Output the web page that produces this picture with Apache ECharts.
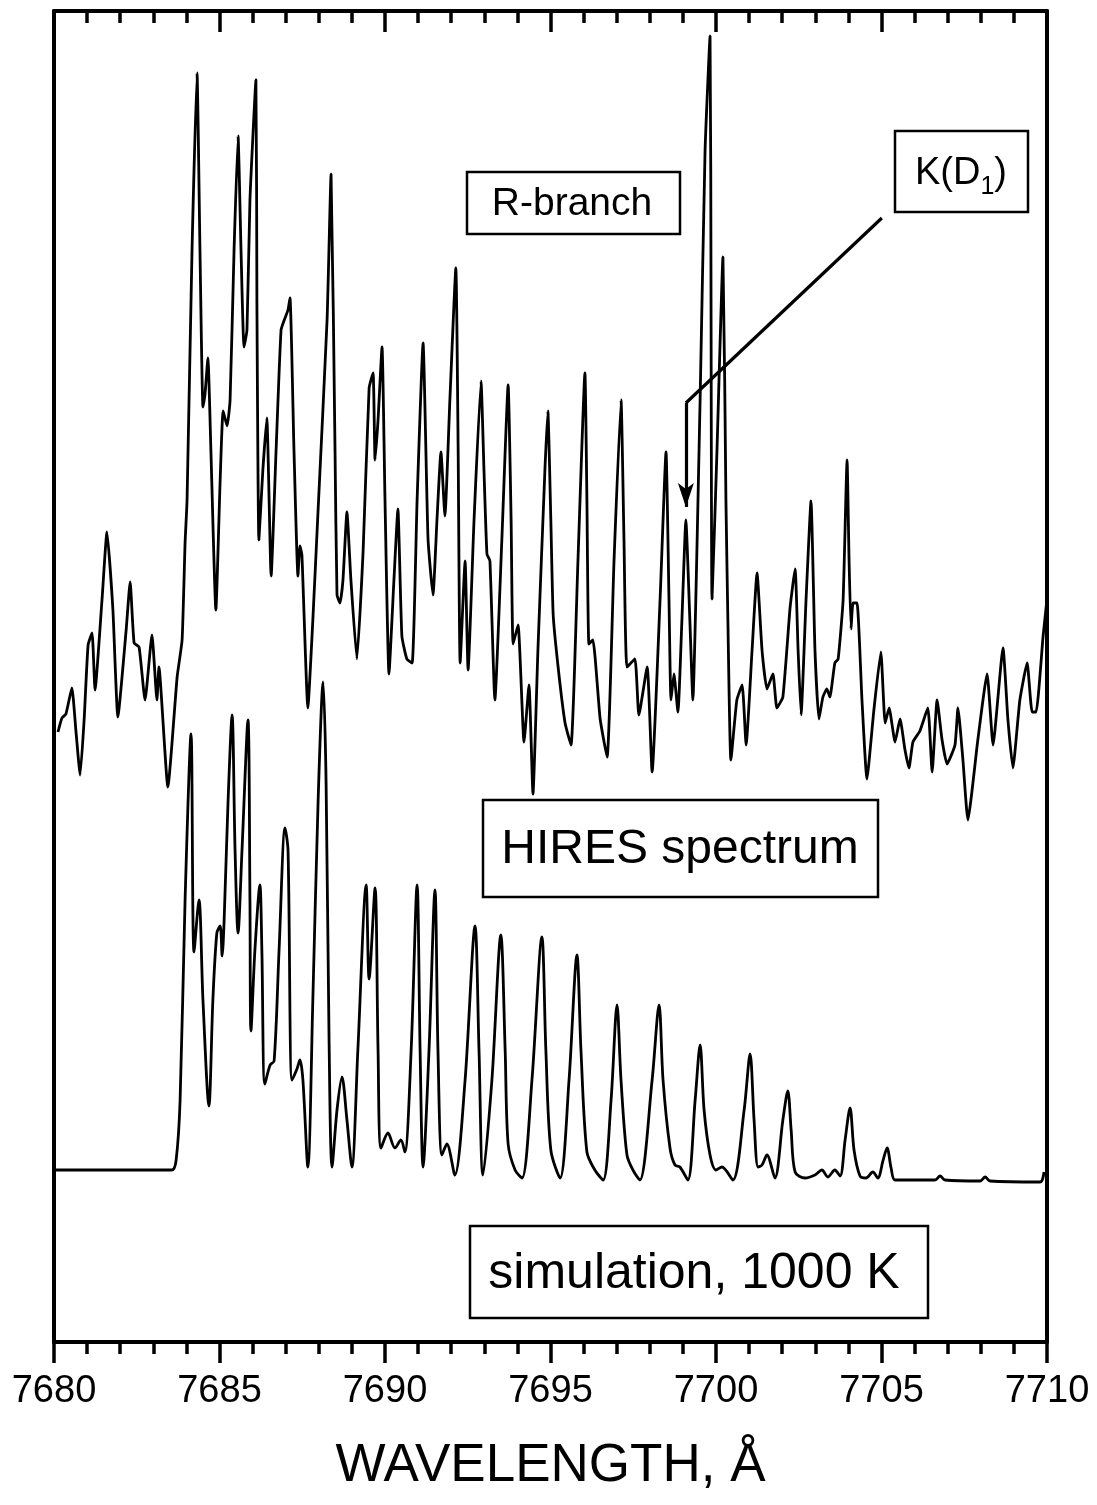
<!DOCTYPE html>
<html>
<head>
<meta charset="utf-8">
<script src="https://cdn.jsdelivr.net/npm/echarts@6/dist/echarts.min.js"></script>
<style>
  html, body { margin: 0; padding: 0; background: #fff; }
  #chart { width: 1097px; height: 1505px; }
</style>
</head>
<body>
<div id="chart"></div>
<script>
// Observed HIRES spectrum (relative flux, arbitrary units, offset upward)
const hiresWavelength = [
  7680.12, 7680.24, 7680.36, 7680.54, 7680.66, 7680.79, 7680.91, 7681.03, 7681.15, 7681.24,
  7681.45, 7681.60, 7681.78, 7681.93, 7682.18, 7682.30, 7682.42, 7682.57, 7682.75, 7682.96,
  7683.11, 7683.17, 7683.44, 7683.72, 7683.87, 7683.96, 7684.02, 7684.17, 7684.32, 7684.41,
  7684.50, 7684.56, 7684.65, 7684.74, 7684.89, 7685.02, 7685.11, 7685.23, 7685.32, 7685.44,
  7685.56, 7685.65, 7685.74, 7685.83, 7685.92, 7686.10, 7686.13, 7686.19, 7686.31, 7686.43,
  7686.56, 7686.71, 7686.86, 7686.98, 7687.07, 7687.13, 7687.25, 7687.37, 7687.43, 7687.49,
  7687.67, 7687.82, 7687.98, 7688.25, 7688.37, 7688.49, 7688.55, 7688.64, 7688.73, 7688.85,
  7688.97, 7689.15, 7689.34, 7689.52, 7689.64, 7689.70, 7689.79, 7689.91, 7690.00, 7690.12,
  7690.27, 7690.39, 7690.51, 7690.66, 7690.82, 7690.97, 7691.15, 7691.30, 7691.45, 7691.57,
  7691.69, 7691.81, 7691.96, 7692.14, 7692.21, 7692.27, 7692.42, 7692.51, 7692.69, 7692.90,
  7692.99, 7693.08, 7693.17, 7693.32, 7693.53, 7693.72, 7693.81, 7693.87, 7694.02, 7694.20,
  7694.35, 7694.47, 7694.62, 7694.83, 7694.92, 7695.01, 7695.08, 7695.23, 7695.44, 7695.62,
  7695.83, 7696.04, 7696.10, 7696.16, 7696.28, 7696.50, 7696.71, 7696.92, 7697.13, 7697.22,
  7697.31, 7697.55, 7697.67, 7697.92, 7698.07, 7698.31, 7698.49, 7698.58, 7698.64, 7698.73,
  7698.85, 7698.97, 7699.09, 7699.21, 7699.30, 7699.52, 7699.67, 7699.82, 7699.85, 7699.88,
  7700.03, 7700.21, 7700.30, 7700.36, 7700.45, 7700.63, 7700.79, 7700.91, 7701.09, 7701.24,
  7701.39, 7701.54, 7701.72, 7701.84, 7702.02, 7702.24, 7702.39, 7702.48, 7702.57, 7702.72,
  7702.87, 7702.99, 7703.11, 7703.23, 7703.35, 7703.44, 7703.59, 7703.69, 7703.84, 7703.96,
  7704.02, 7704.08, 7704.14, 7704.26, 7704.41, 7704.56, 7704.77, 7704.98, 7705.11, 7705.23,
  7705.41, 7705.56, 7705.71, 7705.83, 7705.95, 7706.16, 7706.40, 7706.53, 7706.68, 7706.83,
  7706.98, 7707.22, 7707.31, 7707.46, 7707.61, 7707.91, 7708.19, 7708.37, 7708.67, 7708.82,
  7708.97, 7709.18, 7709.40, 7709.55, 7709.67, 7709.88, 7710.00
];
const hiresFlux = [
  61.0, 62.4, 62.8, 65.4, 61.2, 56.7, 62.2, 69.7, 70.9, 65.2,
  74.2, 81.0, 73.2, 62.5, 71.2, 76.0, 69.9, 69.5, 64.2, 70.7,
  64.2, 67.5, 55.5, 66.5, 70.2, 79.9, 84.2, 109.2, 126.9, 109.2,
  93.5, 94.7, 98.4, 89.2, 73.2, 86.2, 93.1, 91.6, 94.2, 109.2,
  120.6, 109.2, 99.5, 101.2, 114.2, 126.2, 104.2, 80.2, 87.2, 92.4,
  76.6, 89.2, 101.2, 102.4, 103.2, 104.4, 89.2, 76.6, 79.6, 78.7,
  63.4, 72.2, 83.3, 102.2, 116.8, 89.2, 74.7, 73.9, 76.2, 83.0,
  76.2, 68.3, 79.2, 95.4, 96.9, 88.2, 92.2, 99.5, 84.2, 66.8,
  76.2, 83.3, 70.6, 68.3, 67.9, 84.2, 99.9, 80.3, 74.7, 82.2,
  89.0, 82.6, 94.2, 107.4, 89.2, 67.9, 78.1, 67.2, 82.2, 96.1,
  87.2, 78.8, 78.1, 64.2, 80.2, 95.7, 82.2, 69.8, 71.7, 60.0,
  65.7, 54.8, 69.2, 87.1, 93.1, 82.2, 72.8, 67.5, 61.9, 59.7,
  78.2, 96.9, 84.2, 69.8, 70.2, 62.3, 58.5, 78.2, 94.2, 80.2,
  67.5, 68.3, 62.7, 67.5, 57.0, 74.2, 89.0, 74.2, 64.2, 66.8,
  63.0, 72.2, 82.2, 72.2, 64.2, 94.2, 119.2, 130.6, 104.2, 74.3,
  89.2, 108.5, 84.2, 72.0, 58.2, 64.2, 65.7, 59.7, 69.2, 76.9,
  69.2, 65.3, 66.8, 63.4, 64.5, 73.5, 77.3, 69.2, 62.7, 74.2,
  84.1, 69.2, 62.3, 64.5, 65.3, 64.5, 67.9, 68.3, 74.2, 88.2,
  78.2, 71.3, 73.9, 73.9, 64.2, 56.3, 63.2, 69.0, 61.9, 63.4,
  60.0, 62.3, 59.2, 57.4, 60.0, 61.1, 63.4, 57.0, 64.2, 60.2,
  57.8, 59.7, 63.4, 58.2, 52.2, 60.2, 66.8, 59.7, 69.4, 62.2,
  57.4, 64.2, 67.9, 63.0, 63.0, 70.5, 74.3
];

// Simulated R-branch spectrum for T = 1000 K (same flux units)
const simWavelength = [
  7680.03, 7681.39, 7682.60, 7683.56, 7683.69, 7683.81, 7683.96, 7684.14, 7684.23, 7684.38,
  7684.50, 7684.68, 7684.80, 7684.92, 7685.02, 7685.08, 7685.14, 7685.26, 7685.38, 7685.47,
  7685.56, 7685.68, 7685.86, 7685.92, 7685.95, 7686.07, 7686.22, 7686.28, 7686.37, 7686.53,
  7686.65, 7686.80, 7686.98, 7687.07, 7687.19, 7687.34, 7687.43, 7687.52, 7687.67, 7687.82,
  7687.98, 7688.13, 7688.22, 7688.31, 7688.40, 7688.55, 7688.70, 7688.85, 7689.00, 7689.18,
  7689.43, 7689.52, 7689.70, 7689.79, 7689.88, 7690.09, 7690.30, 7690.48, 7690.60, 7690.79,
  7690.97, 7691.06, 7691.15, 7691.33, 7691.51, 7691.60, 7691.72, 7691.87, 7692.11, 7692.42,
  7692.72, 7692.84, 7692.96, 7693.23, 7693.50, 7693.63, 7693.72, 7693.93, 7694.14, 7694.44,
  7694.74, 7694.86, 7695.01, 7695.29, 7695.56, 7695.80, 7695.92, 7696.10, 7696.34, 7696.59,
  7696.83, 7697.01, 7697.13, 7697.31, 7697.49, 7697.70, 7698.07, 7698.28, 7698.40, 7698.61,
  7698.76, 7698.91, 7699.15, 7699.37, 7699.52, 7699.64, 7699.82, 7700.00, 7700.18, 7700.51,
  7700.85, 7701.03, 7701.15, 7701.27, 7701.39, 7701.54, 7701.78, 7702.02, 7702.17, 7702.27,
  7702.39, 7702.69, 7702.99, 7703.20, 7703.38, 7703.59, 7703.75, 7703.90, 7704.05, 7704.17,
  7704.35, 7704.53, 7704.74, 7704.89, 7705.05, 7705.17, 7705.29, 7705.41, 7706.16, 7706.62,
  7706.77, 7706.92, 7707.98, 7708.13, 7708.28, 7709.79, 7709.91
];
const simFlux = [
  17.2, 17.2, 17.2, 17.2, 18.2, 24.2, 44.2, 60.8, 39.0, 44.2,
  34.2, 23.6, 34.2, 40.9, 41.6, 38.6, 42.2, 54.2, 62.7, 49.2,
  40.9, 49.2, 62.2, 44.2, 31.1, 39.2, 45.7, 39.2, 25.8, 27.7,
  28.1, 39.2, 51.4, 49.2, 26.2, 27.3, 28.2, 26.2, 17.5, 34.2,
  54.2, 66.0, 56.0, 30.2, 17.5, 23.2, 26.5, 22.2, 17.5, 29.2,
  45.7, 36.3, 45.4, 29.2, 19.4, 20.9, 19.4, 20.2, 19.0, 29.2,
  45.7, 29.2, 17.5, 29.2, 45.2, 29.2, 18.7, 19.8, 16.7, 26.2,
  41.6, 29.2, 16.7, 26.2, 40.7, 29.2, 19.8, 17.2, 16.4, 26.2,
  40.5, 29.2, 19.2, 16.4, 26.2, 38.7, 29.2, 19.0, 17.2, 16.2,
  24.2, 33.7, 26.2, 18.7, 17.2, 16.2, 26.2, 33.7, 26.2, 19.4,
  17.7, 17.5, 16.2, 24.2, 29.7, 23.2, 18.7, 17.2, 17.5, 16.2,
  23.2, 28.8, 22.2, 17.5, 17.7, 18.7, 16.4, 22.2, 25.1, 21.2,
  17.0, 16.4, 16.7, 17.2, 16.5, 17.2, 16.6, 20.2, 23.4, 19.2,
  16.6, 16.4, 17.0, 16.4, 18.2, 19.4, 17.4, 16.2, 16.2, 16.2,
  16.6, 16.2, 16.1, 16.5, 16.1, 16.0, 17.0
];

// Wavelength axis ticks (Å)
const axisMin = 7680;
const axisMax = 7710;
const majorStep = 5;

// K I D1 marker: leader from the label down to the line, then an arrow
const kD1Leader = [[7705.01, 112.4], [7699.09, 93.9], [7699.09, 83.5]];

const FONT = 'Helvetica, "Liberation Sans", Arial, sans-serif';

function zip(xs, ys) {
  const n = Math.min(xs.length, ys.length);
  const out = [];
  for (let i = 0; i < n; i++) out.push([xs[i], ys[i]]);
  return out;
}

const chart = echarts.init(document.getElementById('chart'), null, { renderer: 'canvas' });

const frameLine = { color: '#000', width: 4 };

chart.setOption({
  backgroundColor: '#fff',
  animation: false,
  grid: { left: 54, right: 50, top: 11, bottom: 163, containLabel: false },
  xAxis: [
    {
      type: 'value', position: 'bottom', min: axisMin, max: axisMax, interval: majorStep,
      axisLine: { show: true, onZero: false, lineStyle: frameLine },
      axisTick: { show: true, inside: false, length: 21, lineStyle: { color: '#000', width: 3.5 } },
      minorTick: { show: true, splitNumber: 5, length: 12, lineStyle: { color: '#000', width: 3.5 } },
      splitLine: { show: false },
      axisLabel: { show: true, margin: 31, color: '#000', fontSize: 38, fontFamily: FONT,
                   formatter: v => String(v) },
      name: 'WAVELENGTH, Å', nameLocation: 'middle', nameGap: 98,
      nameTextStyle: { color: '#000', fontSize: 53, fontFamily: FONT }
    },
    {
      type: 'value', position: 'top', min: axisMin, max: axisMax, interval: majorStep,
      axisLine: { show: true, onZero: false, lineStyle: frameLine },
      axisTick: { show: true, inside: true, length: 21, lineStyle: { color: '#000', width: 3.5 } },
      minorTick: { show: true, splitNumber: 5, length: 12, lineStyle: { color: '#000', width: 3.5 } },
      splitLine: { show: false },
      axisLabel: { show: false }
    }
  ],
  yAxis: [
    {
      type: 'value', position: 'left', min: 0, max: 133.1,
      axisLine: { show: true, onZero: false, lineStyle: frameLine },
      axisTick: { show: false }, axisLabel: { show: false }, splitLine: { show: false }
    },
    {
      type: 'value', position: 'right', min: 0, max: 133.1,
      axisLine: { show: true, onZero: false, lineStyle: frameLine },
      axisTick: { show: false }, axisLabel: { show: false }, splitLine: { show: false }
    }
  ],
  series: [
    {
      name: 'HIRES spectrum', type: 'line', xAxisIndex: 0, yAxisIndex: 0,
      data: zip(hiresWavelength, hiresFlux),
      showSymbol: false, smooth: 0.15,
      lineStyle: { color: '#000', width: 2.8 },
      z: 3,
      markLine: {
        silent: true, animation: false,
        label: { show: false },
        lineStyle: { color: '#000', width: 3.2, type: 'solid' },
        data: [
          [ { coord: kD1Leader[0], symbol: 'none' }, { coord: kD1Leader[1], symbol: 'none' } ],
          [ { coord: kD1Leader[1], symbol: 'none' },
            { coord: kD1Leader[2], symbol: 'arrow', symbolSize: [12, 24] } ]
        ]
      }
    },
    {
      name: 'simulation, 1000 K', type: 'line', xAxisIndex: 0, yAxisIndex: 0,
      data: zip(simWavelength, simFlux),
      showSymbol: false, smooth: 0.3,
      lineStyle: { color: '#000', width: 2.8 },
      z: 3
    }
  ],
  graphic: [
    { type: 'rect', z: 10, shape: { x: 467, y: 172, width: 213, height: 62 },
      style: { fill: '#fff', stroke: '#000', lineWidth: 2.5 } },
    { type: 'text', z: 11, x: 572, y: 204,
      style: { text: 'R-branch', fontSize: 39, fontFamily: FONT, fill: '#000',
               align: 'center', verticalAlign: 'middle' } },

    { type: 'rect', z: 10, shape: { x: 895, y: 131, width: 133, height: 81 },
      style: { fill: '#fff', stroke: '#000', lineWidth: 2.5 } },
    { type: 'text', z: 11, x: 961, y: 174,
      style: { text: '{a|K(D}{s|1}{a|)}', fill: '#000', align: 'center', verticalAlign: 'middle',
               rich: {
                 a: { fontSize: 38, fontFamily: FONT, lineHeight: 52, fill: '#000' },
                 s: { fontSize: 25, fontFamily: FONT, lineHeight: 22, verticalAlign: 'bottom', fill: '#000' }
               } } },

    { type: 'rect', z: 10, shape: { x: 483, y: 800, width: 395, height: 97 },
      style: { fill: '#fff', stroke: '#000', lineWidth: 2.5 } },
    { type: 'text', z: 11, x: 680, y: 850,
      style: { text: 'HIRES spectrum', fontSize: 48, fontFamily: FONT, fill: '#000',
               align: 'center', verticalAlign: 'middle' } },

    { type: 'rect', z: 10, shape: { x: 470, y: 1226, width: 458, height: 92 },
      style: { fill: '#fff', stroke: '#000', lineWidth: 2.5 } },
    { type: 'text', z: 11, x: 694, y: 1274,
      style: { text: 'simulation, 1000 K', fontSize: 50, fontFamily: FONT, fill: '#000',
               align: 'center', verticalAlign: 'middle' } }
  ]
});
</script>
</body>
</html>
